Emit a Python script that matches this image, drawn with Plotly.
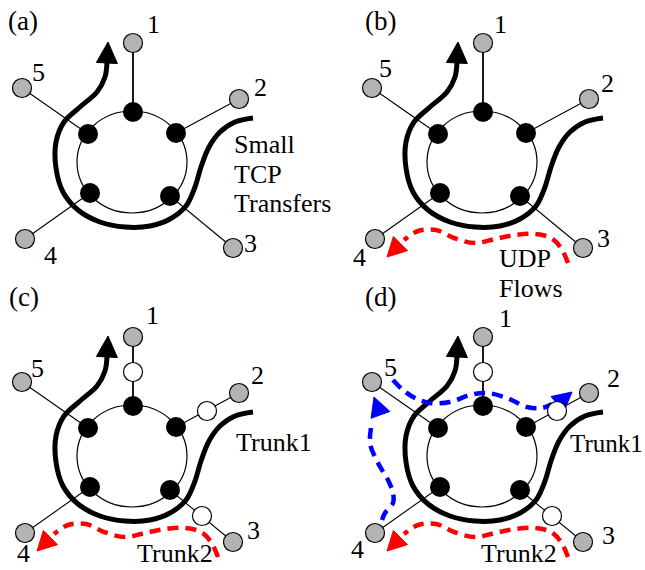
import math
import plotly.graph_objects as go

# ---------------- data (pixel coordinates of panel (a); others are offsets) ----------------
panel_names = ["(a)", "(b)", "(c)", "(d)"]
panel_dx = [0, 350, 0, 350]
panel_dy = [0, 0, 294, 294]
panel_title_xy = [(23, 21), (380, 21), (24, 297), (380, 297)]

ring_center = (132, 162)
ring_radii = (55, 51)

router_x = [133, 176, 88, 90, 170]          # top, upper-right, upper-left, lower-left, lower-right
router_y = [112, 133, 134, 193, 196]

host_ids = ["1", "2", "3", "4", "5"]
host_x = [133, 239, 233, 25, 22]
host_y = [43, 99, 248, 239, 88]
host_router = [0, 1, 4, 3, 2]

trunk_node_x = [133, 207, 202]
trunk_node_y = [78, 117, 222]

# (x, y, anchor) for host labels, per panel
host_label_xy = [
    [(153, 24, "middle"), (260, 87, "middle"), (250, 243, "middle"), (50, 255, "middle"), (38, 72, "middle")],
    [(500, 24, "middle"), (607, 83, "middle"), (603, 238, "middle"), (359, 257, "middle"), (385, 68, "middle")],
    [(152, 315, "middle"), (257, 375, "middle"), (253, 530, "middle"), (23, 570, "bottom"), (37, 368, "middle")],
    [(505, 318, "middle"), (613, 378, "middle"), (608, 535, "middle"), (357, 549, "middle"), (390, 367, "middle")],
]

tcp_x = [107, 105, 97, 80, 64, 56, 56, 63, 78, 100, 125, 150, 170, 186, 195, 201, 209, 220, 235, 253]
tcp_y = [62, 77, 92, 107, 122, 142, 168, 192, 210, 222, 227, 226, 219, 206, 187, 167, 147, 132, 122, 118]
tcp_tip = (108, 42)
tcp_angle = -87          # arrow-head direction in degrees (screen coords, y down)

udp_x = [218, 211, 201, 185, 165, 145, 125, 104, 86, 68, 54]
udp_y = [263, 248, 238, 234, 235, 239, 243, 238, 230, 231, 240]
udp_tip = (37, 257)
udp_angle = 135

blue1_x = [382, 385, 393, 393, 388, 382, 375, 370, 372]
blue1_y = [520, 513, 503, 493, 480, 470, 457, 443, 422]
blue1_tip = (374, 397)
blue1_angle = -110

blue2_x = [393, 403, 415, 430, 450, 470, 487, 507, 527, 542, 552]
blue2_y = [380, 390, 398, 403, 402, 395, 393, 398, 407, 408, 404]
blue2_tip = (572, 392)
blue2_angle = -40

# (text, x, y, xanchor, yanchor, size)
texts = [
    ("Small", 232, 144, "left", "middle", 26), ("TCP", 232, 174, "left", "middle", 26),
    ("Transfers", 232, 203, "left", "middle", 26),
    ("UDP", 497, 258, "left", "middle", 26), ("Flows", 497, 288, "left", "middle", 26),
    ("Trunk1", 234, 442, "left", "middle", 26), ("Trunk2", 135, 570, "left", "bottom", 26),
    ("Trunk1", 645, 443, "right", "middle", 25), ("Trunk2", 479, 570, "left", "bottom", 26),
]

# ---------------- figure ----------------
FONT = "Liberation Serif, Times New Roman, serif"
BLACK = "#000000"
RED = "#ff0000"
BLUE = "#0000ff"
GRAY = "#b3b3b3"

fig = go.Figure()
shapes = []
annotations = []


def head(tip, angle_deg, color, length=19, half=10):
    a = math.radians(angle_deg)
    ux, uy = math.cos(a), math.sin(a)
    bx, by = tip[0] - ux * length, tip[1] - uy * length
    px, py = -uy, ux
    xs = [tip[0], bx + px * half, bx - px * half, tip[0]]
    ys = [tip[1], by + py * half, by - py * half, tip[1]]
    fig.add_trace(go.Scatter(x=xs, y=ys, mode="lines", fill="toself", fillcolor=color,
                             line=dict(color=color, width=1), hoverinfo="skip", showlegend=False))


def line(xs, ys, color, width, dash="solid", spline=False):
    fig.add_trace(go.Scatter(x=xs, y=ys, mode="lines",
                             line=dict(color=color, width=width, dash=dash,
                                       shape="spline" if spline else "linear", smoothing=1.0),
                             hoverinfo="skip", showlegend=False))


for p in range(4):
    dx, dy = panel_dx[p], panel_dy[p]
    # ring
    shapes.append(dict(type="circle", xref="x", yref="y",
                       x0=ring_center[0] - ring_radii[0] + dx, x1=ring_center[0] + ring_radii[0] + dx,
                       y0=ring_center[1] - ring_radii[1] + dy, y1=ring_center[1] + ring_radii[1] + dy,
                       line=dict(color=BLACK, width=1.2), layer="below"))
    # access links
    for h in range(5):
        r = host_router[h]
        line([host_x[h] + dx, router_x[r] + dx], [host_y[h] + dy, router_y[r] + dy],
             BLACK, 1.8 if h == 0 else 1.1)
    # TCP transfers curve
    line([v + dx for v in tcp_x], [v + dy for v in tcp_y], BLACK, 5, spline=True)
    head((tcp_tip[0] + dx, tcp_tip[1] + dy), tcp_angle, BLACK, 21, 10.5)
    # UDP flows
    if p >= 1:
        line([v + dx for v in udp_x], [v + dy for v in udp_y], RED, 4.5, dash="11px,7px", spline=True)
        head((udp_tip[0] + dx, udp_tip[1] + dy), udp_angle, RED, 19, 10)
    if p == 3:
        line(blue1_x, blue1_y, BLUE, 4.5, dash="11px,7px", spline=True)
        head(blue1_tip, blue1_angle, BLUE, 19, 10)
        line(blue2_x, blue2_y, BLUE, 4.5, dash="11px,7px", spline=True)
        head(blue2_tip, blue2_angle, BLUE, 19, 10)
    # routers
    fig.add_trace(go.Scatter(x=[v + dx for v in router_x], y=[v + dy for v in router_y], mode="markers",
                             marker=dict(size=20, color=BLACK, line=dict(width=0)),
                             hoverinfo="skip", showlegend=False))
    # hosts
    fig.add_trace(go.Scatter(x=[v + dx for v in host_x], y=[v + dy for v in host_y], mode="markers",
                             marker=dict(size=19, color=GRAY, line=dict(width=1.2, color=BLACK)),
                             hoverinfo="skip", showlegend=False))
    # trunk end nodes
    if p >= 2:
        fig.add_trace(go.Scatter(x=[v + dx for v in trunk_node_x], y=[v + dy for v in trunk_node_y],
                                 mode="markers",
                                 marker=dict(size=19, color="white", line=dict(width=1.2, color=BLACK)),
                                 hoverinfo="skip", showlegend=False))
    # host labels
    for h in range(5):
        lx, ly, ya = host_label_xy[p][h]
        annotations.append(dict(x=lx, y=ly, xref="x", yref="y", text=host_ids[h], showarrow=False,
                                xanchor="center", yanchor=ya,
                                font=dict(family=FONT, size=26, color=BLACK)))
    tx, ty = panel_title_xy[p]
    annotations.append(dict(x=tx, y=ty, xref="x", yref="y", text=panel_names[p], showarrow=False,
                            xanchor="center", yanchor="middle",
                            font=dict(family=FONT, size=27, color=BLACK)))

for t, x, y, xa, ya, sz in texts:
    annotations.append(dict(x=x, y=y, xref="x", yref="y", text=t, showarrow=False,
                            xanchor=xa, yanchor=ya,
                            font=dict(family=FONT, size=sz, color=BLACK)))

fig.update_layout(
    width=645, height=570,
    margin=dict(l=0, r=0, t=0, b=0),
    paper_bgcolor="white", plot_bgcolor="white",
    xaxis=dict(range=[0, 645], visible=False, fixedrange=True),
    yaxis=dict(range=[570, 0], visible=False, fixedrange=True),
    shapes=shapes, annotations=annotations, showlegend=False,
)

fig.write_html("out.html", config={"displayModeBar": False})
